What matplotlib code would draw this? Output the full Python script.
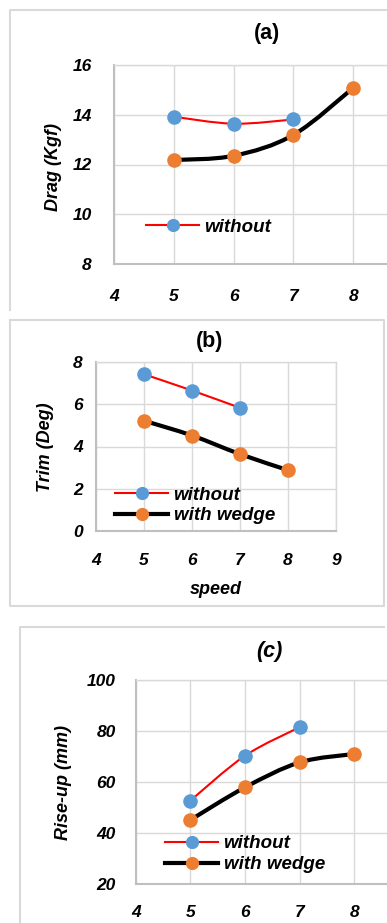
import numpy as np
import matplotlib
matplotlib.use("Agg")
import matplotlib.pyplot as plt
from matplotlib.path import Path
from matplotlib.patches import PathPatch
from matplotlib.lines import Line2D

plt.rcParams['font.family'] = ['Liberation Sans', 'DejaVu Sans']

# data
speed_without = [5, 6, 7]
speed_wedge = [5, 6, 7, 8]
drag_without = [13.92, 13.64, 13.81]
drag_wedge = [12.18, 12.35, 13.19, 15.08]
trim_without = [7.42, 6.65, 5.83]
trim_wedge = [5.22, 4.52, 3.64, 2.88]
rise_without = [52.7, 70.3, 81.5]
rise_wedge = [45.1, 57.9, 67.7, 71.0]

BLUE = '#5B9BD5'
ORANGE = '#ED7D31'
GRID = '#d9d9d9'
W, H = 387, 923

fig = plt.figure(figsize=(W / 100, H / 100), dpi=100)


def rect(l, r, t, b):
    return [l / W, 1 - b / H, (r - l) / W, (b - t) / H]


def fp(x, y):
    return x / W, 1 - y / H


def smooth(ax, xs, ys, color, lw):
    # excel style smoothed line: cubic bezier through the points
    pts = np.column_stack([xs, ys]).astype(float)
    n = len(pts)
    verts = [pts[0]]
    codes = [Path.MOVETO]
    for i in range(n - 1):
        p0 = pts[max(i - 1, 0)]
        p1 = pts[i]
        p2 = pts[i + 1]
        p3 = pts[min(i + 2, n - 1)]
        c1 = p1 + (p2 - p0) / 6.0
        c2 = p2 - (p3 - p1) / 6.0
        verts += [c1, c2, p2]
        codes += [Path.CURVE4] * 3
    ax.add_patch(PathPatch(Path(verts, codes), facecolor='none', edgecolor=color,
                           lw=lw, capstyle='round', joinstyle='round', zorder=3))


def setup(ax, ylim, yticks, xticks, ypad, xpad):
    ax.set_xlim(4, 9)
    ax.set_ylim(*ylim)
    ax.set_xticks(xticks)
    ax.set_yticks(yticks)
    ax.grid(True, color=GRID, lw=1)
    ax.set_axisbelow(True)
    for s in ['top', 'right']:
        ax.spines[s].set_color(GRID)
        ax.spines[s].set_linewidth(1)
    for s in ['left', 'bottom']:
        ax.spines[s].set_color('#bfbfbf')
        ax.spines[s].set_linewidth(1.5)
    ax.tick_params(length=0, labelsize=12.5)
    ax.tick_params(axis='y', pad=ypad)
    ax.tick_params(axis='x', pad=xpad)
    for lab in ax.get_xticklabels() + ax.get_yticklabels():
        lab.set_fontweight('bold')
        lab.set_fontstyle('italic')


def series(ax, xs, ys, lc, mc, lw):
    smooth(ax, xs, ys, lc, lw)
    ax.plot(xs, ys, 'o', color=mc, ms=10.5, mec='none', zorder=4, clip_on=False)


def handles(with_wedge=True):
    h = [Line2D([], [], color='red', lw=1.5, marker='o', mfc=BLUE, mec='none', ms=9.5)]
    if with_wedge:
        h.append(Line2D([], [], color='black', lw=3, marker='o', mfc=ORANGE, mec='none', ms=9.5))
    return h


def legend(ax, hs, labels, x, y):
    ax.legend(hs, labels, loc='upper left', bbox_to_anchor=fp(x, y),
              bbox_transform=fig.transFigure, frameon=False, borderpad=0,
              handlelength=2.8, handletextpad=0.3, labelspacing=0.2,
              prop={'weight': 'bold', 'style': 'italic', 'size': 13.5})


def border(pts):
    xs = [p[0] / W for p in pts]
    ys = [1 - p[1] / H for p in pts]
    fig.add_artist(Line2D(xs, ys, color='#d9d9d9', lw=1.5, transform=fig.transFigure))


def title(text, x, y, style='normal'):
    fig.text(*fp(x, y), text, ha='center', va='center', fontsize=15.5,
             fontweight='bold', fontstyle=style)


def ylabel(text, x, y):
    fig.text(*fp(x, y), text, ha='center', va='center', rotation=90,
             fontsize=13, fontweight='bold', fontstyle='italic')


# (a)
border([(10, 310), (10, 10), (387, 10)])
ax1 = fig.add_axes(rect(114, 413, 65, 264))
setup(ax1, (8, 16), [8, 10, 12, 14, 16], [4, 5, 6, 7, 8], 16, 18)
series(ax1, speed_wedge, drag_wedge, 'black', ORANGE, 3)
series(ax1, speed_without, drag_without, 'red', BLUE, 1.5)
legend(ax1, handles(False), ['without'], 137, 209)
title('(a)', 267, 33)
ylabel('Drag (Kgf)', 53, 167)

# (b)
border([(10, 320), (384, 320), (384, 606), (10, 606), (10, 320)])
ax2 = fig.add_axes(rect(96, 336, 362, 531))
setup(ax2, (0, 8), [0, 2, 4, 6, 8], [4, 5, 6, 7, 8, 9], 9.5, 16)
series(ax2, speed_wedge, trim_wedge, 'black', ORANGE, 3)
series(ax2, speed_without, trim_without, 'red', BLUE, 1.5)
legend(ax2, handles(), ['without', 'with wedge'], 106, 477)
title('(b)', 210, 342)
ylabel('Trim (Deg)', 45, 447)
fig.text(*fp(216, 590), 'speed', ha='center', va='center', fontsize=13,
         fontweight='bold', fontstyle='italic')

# (c)
border([(19.5, 923), (19.5, 626.5), (384, 626.5)])
ax3 = fig.add_axes(rect(135.7, 409, 680, 884))
setup(ax3, (20, 100), [20, 40, 60, 80, 100], [4, 5, 6, 7, 8], 14.5, 15)
series(ax3, speed_wedge, rise_wedge, 'black', ORANGE, 3)
series(ax3, speed_without, rise_without, 'red', BLUE, 1.5)
legend(ax3, handles(), ['without', 'with wedge'], 156, 826)
title('(c)', 269, 652, 'italic')
ylabel('Rise-up (mm)', 63, 782)

fig.savefig('out.png', dpi=100)
